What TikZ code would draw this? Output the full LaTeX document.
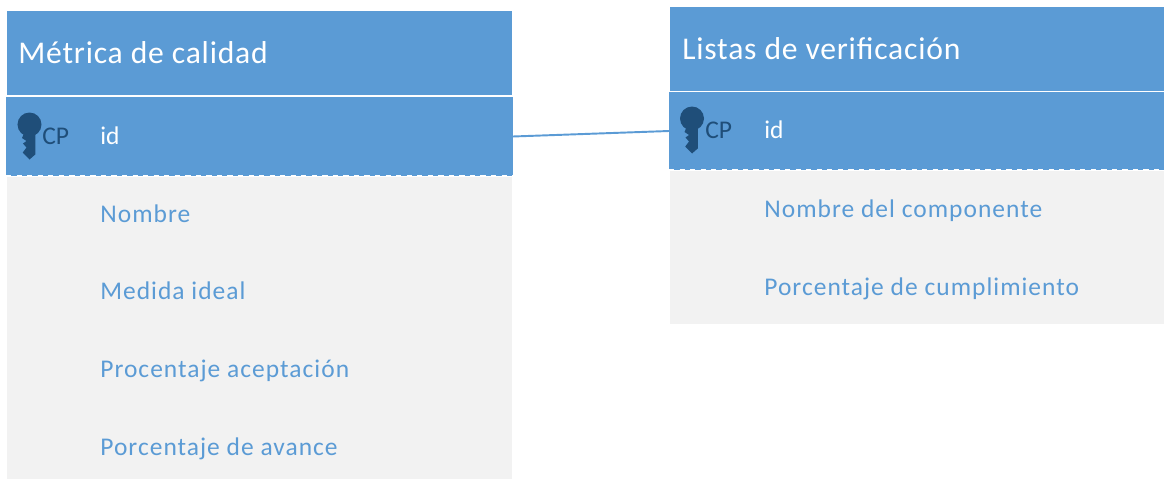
\documentclass[tikz,border=0pt]{standalone}
\usepackage{fontspec}
\setmainfont{Carlito}
\newfontfamily\fieldfont[LetterSpace=4]{Carlito}
\newfontfamily\headfont[LetterSpace=2.5]{Carlito}
\usetikzlibrary{positioning}
\definecolor{tablecol}{HTML}{5B9BD5}
\definecolor{rowcol}{HTML}{F2F2F2}
\definecolor{keycol}{HTML}{1F4E79}
\tikzset{
    box/.style={inner sep=0pt,outer sep=0pt,minimum width=10.1cm,anchor=north west},
    headbox/.style={box,fill=tablecol,minimum height=1.68cm},
    idbox/.style={box,fill=tablecol,minimum width=10.14cm,minimum height=1.58cm},
    fieldbox/.style={box,fill=rowcol,minimum height=1.56cm},
    label/.style={inner sep=0pt,anchor=west,text height=9pt,text depth=0pt},
    headlabel/.style={label,text height=11.5pt,text=white,font=\headfont\fontsize{18}{20}\selectfont},
    idlabel/.style={label,text=white,font=\fontsize{14.5}{16}\selectfont},
    cplabel/.style={label,text=keycol,font=\fontsize{14.5}{16}\selectfont},
    fieldlabel/.style={label,text=tablecol,font=\fieldfont\fontsize{14.5}{16}\selectfont},
    keyicon/.pic={
        \fill[keycol] (0,0) circle (0.24cm);
        \fill[keycol] (-0.12,-0.12) -- (0.115,-0.12) -- (0.115,-0.6) -- (0,-0.7) -- (-0.135,-0.56)
            -- (-0.06,-0.46) -- (-0.13,-0.38) -- (-0.06,-0.33) -- (-0.15,-0.27) -- (-0.12,-0.2) -- cycle;
    },
    link/.style={draw=tablecol,line width=1.1pt}
}
\begin{document}
\begin{tikzpicture}
    \useasboundingbox (0,0) rectangle (23.28,-9.58);

    % first table
    \node[headbox] (h1) at (0.14,-0.22) {};
    \node[idbox,below=0.04cm of h1.south west,anchor=north west,xshift=-0.02cm] (i1) {};
    \node[fieldbox,minimum height=1.52cm,below=0.02cm of i1.south west,anchor=north west,xshift=0.02cm] (f1) {};
    \node[fieldbox,below=0cm of f1.south west,anchor=north west] (f2) {};
    \node[fieldbox,below=0cm of f2.south west,anchor=north west] (f3) {};
    \node[fieldbox,minimum height=1.42cm,below=0cm of f3.south west,anchor=north west] (f4) {};
    \draw[white,dashed,line width=0.6pt] (i1.south west) -- (i1.south east);

    \node[headlabel,right=0.22cm of h1.west] (h1t) {Métrica de calidad};
    \pic at ([xshift=0.47cm,yshift=0.24cm]i1.west) {keyicon};
    \node[cplabel,right=0.72cm of i1.west] (c1) {CP};
    \node[idlabel,right=1.88cm of i1.west] (i1t) {id};
    \node[fieldlabel,right=1.86cm of f1.west] (f1t) {Nombre};
    \node[fieldlabel,right=1.86cm of f2.west] (f2t) {Medida ideal};
    \node[fieldlabel,right=1.86cm of f3.west] (f3t) {Procentaje aceptación};
    \node[fieldlabel,anchor=west] (f4t) at ([yshift=-1.56cm]f3t.west) {Porcentaje de avance};

    % second table
    \node[headbox,minimum width=9.88cm] (h2) at (13.4,-0.14) {};
    \node[idbox,minimum width=9.9cm,minimum height=1.56cm,below=0.02cm of h2.south west,anchor=north west,xshift=-0.02cm] (i2) {};
    \node[fieldbox,minimum width=9.88cm,minimum height=1.54cm,below=0.02cm of i2.south west,anchor=north west,xshift=0.02cm] (g1) {};
    \node[fieldbox,minimum width=9.88cm,minimum height=1.52cm,below=0cm of g1.south west,anchor=north west] (g2) {};
    \draw[white,dashed,line width=0.6pt] (i2.south west) -- (i2.south east);

    \node[headlabel,right=0.24cm of h2.west] (h2t) {Listas de verificación};
    \pic at ([xshift=0.46cm,yshift=0.25cm]i2.west) {keyicon};
    \node[cplabel,right=0.72cm of i2.west] (c2) {CP};
    \node[idlabel,right=1.9cm of i2.west] (i2t) {id};
    \node[fieldlabel,right=1.88cm of g1.west] (g1t) {Nombre del componente};
    \node[fieldlabel,anchor=west] (g2t) at ([yshift=-1.56cm]g1t.west) {Porcentaje de cumplimiento};

    \draw[link] (i1.east) -- (i2.west);
\end{tikzpicture}
\end{document}
